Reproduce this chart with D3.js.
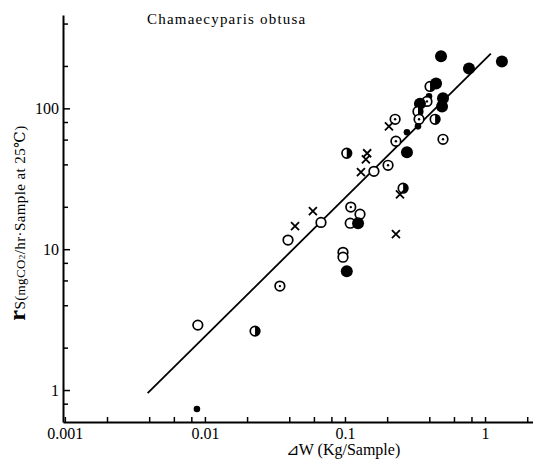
<!DOCTYPE html>
<html>
<head>
<meta charset="utf-8">
<script src="https://cdn.jsdelivr.net/npm/d3@7"></script>
<style>
    body { margin: 0; background: #fff; }
    text { font-family: "Liberation Serif", "DejaVu Serif", serif; fill: #000; }
</style>
</head>
<body>
<script>
//self executing function to keep things local
(function(){

//dry weight increment (Kg/Sample) for each sample
var wValues = [0.485, 0.768, 1.32, 0.405, 0.447, 0.398, 0.385, 0.343, 0.332, 0.501,
               0.493, 0.338, 0.44, 0.332, 0.277, 0.501, 0.228, 0.206, 0.231, 0.277,
               0.103, 0.144, 0.141, 0.13, 0.161, 0.203, 0.26, 0.247, 0.059, 0.0674,
               0.044, 0.0392, 0.110, 0.128, 0.109, 0.124, 0.231, 0.0968, 0.0968, 0.103,
               0.0343, 0.0089, 0.0228, 0.00877];

//respiration rate rs (mgCO2/hr.Sample at 25C)
var rsValues = [234, 192, 215, 143, 150, 122, 112, 108, 95, 118,
                103, 83.6, 83.6, 74.5, 67.6, 60.3, 83.6, 74.5, 58.4, 48.8,
                48.0, 48.0, 43.5, 35.2, 35.7, 39.4, 27.1, 24.5, 18.6, 15.5,
                14.6, 11.6, 19.9, 17.7, 15.3, 15.3, 12.8, 9.5, 8.77, 6.98,
                5.47, 2.89, 2.62, 0.733];

//symbol of each sample: o open, d dotted, f filled, s small filled, h half filled, x cross
var symbols = ["f", "f", "f", "h", "f", "s", "d", "f", "h", "f",
               "f", "d", "h", "s", "s", "d", "d", "x", "d", "f",
               "h", "x", "x", "x", "o", "d", "h", "x", "x", "o",
               "x", "o", "d", "o", "o", "f", "x", "o", "o", "f",
               "d", "o", "h", "s"];

//regression line ends
var lineW = [0.0039, 1.10];
var lineRs = [0.95, 245];

//axis ticks
var xMajor = [0.001, 0.01, 0.1, 1],
    xMinor = [0.002, 0.004, 0.006, 0.008, 0.02, 0.04, 0.06, 0.08, 0.2, 0.4, 0.6, 0.8, 2];
var yMajor = [1, 10, 100],
    yMinor = [0.8, 2, 4, 6, 8, 20, 40, 60, 80, 200, 400];
var xLabels = ["0.001", "0.01", "0.1", "1"],
    yLabels = ["1", "10", "100"];

function setChart(){
    var width = 533,
        height = 459;

    var svg = d3.select("body")
        .append("svg")
        .attr("width", width)
        .attr("height", height);

    //log scales
    var x = d3.scaleLog()
        .domain([0.00097, 2.2])
        .range([63, 533]);
    var y = d3.scaleLog()
        .domain([0.593, 460])
        .range([422, 15]);

    //y axis, ticks pointing inside
    var yAxis = d3.axisLeft(y)
        .tickValues(yMajor.concat(yMinor))
        .tickSizeInner(-7)
        .tickSizeOuter(0)
        .tickPadding(4)
        .tickFormat(function(d){
            var i = yMajor.indexOf(d);
            return i < 0 ? "" : yLabels[i];
        });
    var gy = svg.append("g")
        .attr("transform", "translate(63,0)")
        .call(yAxis);

    //x axis, ticks pointing up
    var xAxis = d3.axisBottom(x)
        .tickValues(xMajor.concat(xMinor))
        .tickSizeInner(-5)
        .tickSizeOuter(0)
        .tickPadding(6)
        .tickFormat(function(d){
            var i = xMajor.indexOf(d);
            return i < 0 ? "" : xLabels[i];
        });
    var gx = svg.append("g")
        .attr("transform", "translate(0,422)")
        .call(xAxis);

    [gx, gy].forEach(function(g){
        g.select(".domain").attr("stroke", "#000").attr("stroke-width", 2);
        g.selectAll(".tick line").attr("stroke", "#000").attr("stroke-width", 1.5);
        g.selectAll(".tick text")
            .style("font-family", "'Liberation Serif', serif")
            .style("font-size", "16px");
    });
    gy.selectAll(".tick line")
        .attr("x2", function(d){ return yMajor.indexOf(d) < 0 ? 5 : 7; });

    //regression line
    svg.append("line")
        .attr("x1", x(lineW[0]))
        .attr("y1", y(lineRs[0]))
        .attr("x2", x(lineW[1]))
        .attr("y2", y(lineRs[1]))
        .attr("stroke", "#000")
        .attr("stroke-width", 1.8);

    //samples
    var pts = svg.selectAll(".pt")
        .data(wValues)
        .enter()
        .append("g")
        .attr("class", "pt")
        .attr("transform", function(d, i){
            return "translate(" + x(d) + "," + y(rsValues[i]) + ")";
        });

    pts.each(function(d, i){
        var g = d3.select(this),
            s = symbols[i];
        if (s == "x"){
            g.append("path")
                .attr("d", "M-4,-4L4,4M-4,4L4,-4")
                .attr("stroke", "#000")
                .attr("stroke-width", 1.8);
        } else if (s == "f"){
            g.append("circle").attr("r", 6).attr("fill", "#000");
        } else if (s == "s"){
            g.append("circle").attr("r", 3.3).attr("fill", "#000");
        } else {
            g.append("circle")
                .attr("r", 4.8)
                .attr("fill", "#fff")
                .attr("stroke", "#000")
                .attr("stroke-width", 1.7);
            if (s == "d"){
                g.append("circle").attr("r", 1.2).attr("fill", "#000");
            };
            if (s == "h"){
                g.append("path")
                    .attr("d", "M0,-4.8A4.8,4.8 0 0 1 0,4.8Z")
                    .attr("fill", "#000");
            };
        };
    });

    //species title
    svg.append("text")
        .attr("x", 147)
        .attr("y", 24)
        .style("font-size", "15px")
        .style("letter-spacing", "1.2px")
        .text("Chamaecyparis obtusa");

    //x title
    svg.append("text")
        .attr("x", 343)
        .attr("y", 455)
        .attr("text-anchor", "middle")
        .style("font-size", "16px")
        .text("\u22BFW (Kg/Sample)");

    //y title
    var yt = svg.append("text")
        .attr("transform", "translate(25,223) rotate(-90)")
        .attr("text-anchor", "middle")
        .style("letter-spacing", "0.4px");
    yt.append("tspan").style("font-size", "24px").style("font-weight", "bold").text("r");
    yt.append("tspan").style("font-size", "15px").text("S(");
    yt.append("tspan").style("font-size", "13px").text("mgCO");
    yt.append("tspan").style("font-size", "9px").text("2");
    yt.append("tspan").style("font-size", "15px").text("/hr\u00B7Sample at 25\u2103)");
};

window.onload = setChart();
})();
</script>
</body>
</html>
